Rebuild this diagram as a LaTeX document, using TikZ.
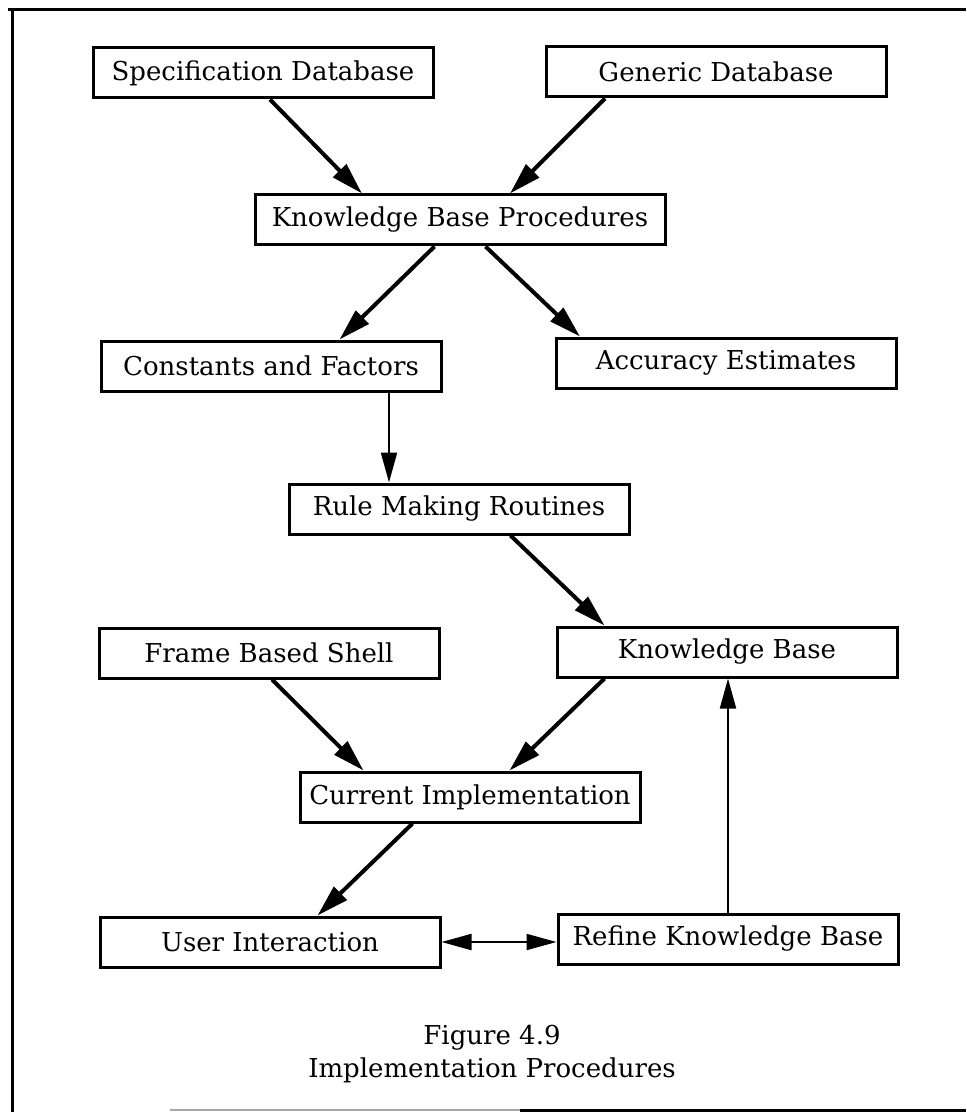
\documentclass[tikz,border=0pt]{standalone}
\usepackage{fontspec}
\setmainfont{DejaVu Serif}
\usepackage{tikz}
\usetikzlibrary{arrows.meta}

\tikzset{
    procbox/.style={draw, line width=1.5pt, minimum width=170pt, minimum height=25pt, inner sep=0pt, font=\fontsize{13}{15}\selectfont},
    bigarrow/.style={line width=2pt, -{Triangle[length=16pt,width=9pt]}},
    thinarrow/.style={line width=1pt, -{Triangle[length=15pt,width=8pt]}}
}

\begin{document}
\begin{tikzpicture}[x=0.5pt, y=-0.5pt]
        \useasboundingbox (0,0) rectangle (966,1112);

        % frame
        \draw[line width=1.5pt] (8,10) -- (966,10);
        \draw[line width=1.5pt] (12,10) -- (12,1112);
        \draw[line width=1pt, black!35] (170,1110) -- (520,1110);
        \draw[line width=1.5pt] (520,1110) -- (966,1110);

        % boxes
        \node[procbox] (spec) at (263,73) {Specification Database};
        \node[procbox] (generic) at (716,72) {Generic Database};
        \node[procbox, minimum width=205pt] (kbproc) at (460,220) {Knowledge Base Procedures};
        \node[procbox] (const) at (271,366) {Constants and Factors};
        \node[procbox] (accur) at (726,363) {Accuracy Estimates};
        \node[procbox] (rule) at (459,509) {Rule Making Routines};
        \node[procbox] (shell) at (269,653) {Frame Based Shell};
        \node[procbox] (kb) at (727,652) {Knowledge Base};
        \node[procbox] (curimpl) at (470,797) {Current Implementation};
        \node[procbox] (user) at (270,942) {User Interaction};
        \node[procbox] (refine) at (728,939) {Refine Knowledge Base};

        % arrows
        \draw[bigarrow] ([xshift=3.5pt]spec.south) -- ([xshift=-49pt]kbproc.north);
        \draw[bigarrow] ([xshift=-55.5pt]generic.south) -- ([xshift=25pt]kbproc.north);
        \draw[bigarrow] ([xshift=-12.75pt]kbproc.south) -- ([xshift=34.25pt]const.north);
        \draw[bigarrow] ([xshift=12.75pt]kbproc.south) -- ([xshift=-73pt]accur.north);
        \draw[thinarrow] ([xshift=59pt]const.south) -- ([xshift=59pt]const.south |- rule.north);
        \draw[bigarrow] ([xshift=25.75pt]rule.south) -- ([xshift=-61.25pt]kb.north);
        \draw[bigarrow] ([xshift=1.5pt]shell.south) -- ([xshift=-53.25pt]curimpl.north);
        \draw[bigarrow] ([xshift=-61.25pt]kb.south) -- ([xshift=19.75pt]curimpl.north);
        \draw[bigarrow] ([xshift=-28.75pt]curimpl.south) -- ([xshift=23.75pt]user.north);
        \draw[thinarrow] (refine.north) -- (refine.north |- kb.south);
        \draw[thinarrow, {Triangle[length=15pt,width=8pt]}-{Triangle[length=15pt,width=8pt]}] (user.east) -- (user.east -| refine.west);

        % caption
        \node[font=\fontsize{13}{15}\selectfont] (figno) at (492,1038) {Figure 4.9};
        \node[font=\fontsize{13}{15}\selectfont] (figtitle) at (492,1070) {Implementation Procedures};
\end{tikzpicture}
\end{document}
